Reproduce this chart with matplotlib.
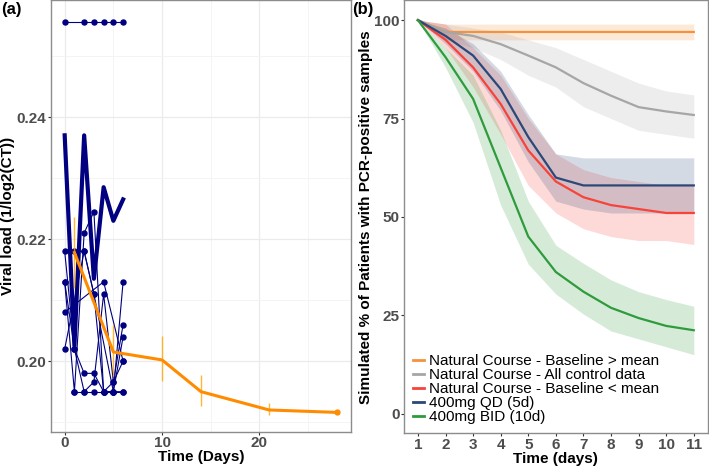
import numpy as np
import matplotlib.pyplot as plt
from matplotlib.ticker import MultipleLocator

plt.rcParams['font.family'] = ['Liberation Sans', 'DejaVu Sans']

# ---- panel (a): individual viral loads ----
thin_days = [
    [0, 2, 3, 4, 5, 6],
    [1, 2, 3, 4, 5, 6],
    [0, 1, 2, 3, 4, 5, 6],
    [0, 1, 2, 3, 4, 5, 6],
    [0, 4, 6],
    [1, 2, 3, 4, 5, 6],
    [0, 1, 2, 3, 4, 5, 6],
    [0, 2, 3, 5, 6],
]
thin_vals = [
    [0.2556, 0.2556, 0.2556, 0.2556, 0.2556, 0.2556],
    [0.195, 0.195, 0.195, 0.195, 0.195, 0.195],
    [0.218, 0.202, 0.198, 0.198, 0.195, 0.1966, 0.206],
    [0.213, 0.195, 0.221, 0.2245, 0.195, 0.195, 0.204],
    [0.208, 0.213, 0.200],
    [0.218, 0.218, 0.211, 0.195, 0.195, 0.213],
    [0.213, 0.202, 0.195, 0.1966, 0.211, 0.1966, 0.200],
    [0.202, 0.218, 0.211, 0.195, 0.195],
]
thick_days = [0, 1, 2, 3, 4, 5, 6]
thick_vals = [0.237, 0.2025, 0.237, 0.2135, 0.2285, 0.223, 0.2265]

mean_days = [1, 5, 10, 14, 21, 28]
mean_vals = [0.2178, 0.2015, 0.2002, 0.1950, 0.1920, 0.1916]
mean_lo = [0.2120, 0.1976, 0.1967, 0.1926, 0.1911, 0.1914]
mean_hi = [0.2236, 0.2060, 0.2042, 0.1978, 0.1931, 0.1918]

# ---- panel (b): simulated % PCR-positive ----
days_b = [1, 2, 3, 4, 5, 6, 7, 8, 9, 10, 11]
series = [
    ("Natural Course - Baseline > mean", "#F5923E",
     [100, 97, 97, 97, 97, 97, 97, 97, 97, 97, 97],
     [100, 95, 95, 95, 95, 95, 95, 95, 95, 95, 95],
     [100, 99, 99, 99, 99, 99, 99, 99, 99, 99, 99]),
    ("Natural Course - All control data", "#A6A6A6",
     [100, 97, 96, 93.9, 91, 88, 84, 80.8, 77.9, 76.8, 75.9],
     [100, 95, 93, 90, 86, 83, 78, 75, 72, 71, 70],
     [100, 99, 98, 97, 95, 93, 90, 87, 84, 82, 81]),
    ("Natural Course - Baseline < mean", "#F8433A",
     [100, 95, 88, 78.7, 66.9, 59, 55, 53, 52, 51, 51],
     [100, 93, 83, 71, 58, 51, 47, 45, 44, 44, 43],
     [100, 99, 93, 86, 75, 66, 62, 60, 59, 58, 58]),
    ("400mg QD (5d)", "#2B4878",
     [100, 96, 91, 82.5, 70.3, 60, 58, 58, 58, 58, 58],
     [100, 94, 87, 77, 64, 54, 52, 51, 51, 51, 51],
     [100, 98, 94, 87, 76, 66, 65, 65, 65, 65, 65]),
    ("400mg BID (10d)", "#2E9B3C",
     [100, 90.6, 80, 62.5, 45, 36, 31, 26.9, 24.3, 22.3, 21.2],
     [100, 88, 74, 53, 38, 30.4, 25.3, 21, 19, 17, 15],
     [100, 93, 86, 72, 54, 42.8, 38.2, 34, 31, 29, 27.3]),
]

fig = plt.figure(figsize=(7.09, 4.69), dpi=100)
ax1 = fig.add_axes([0.072, 0.079, 0.423, 0.92])
ax2 = fig.add_axes([0.570, 0.076, 0.428, 0.923])

TICK_COLOR = "#4D4D4D"

def style_axes(ax):
    ax.set_facecolor("white")
    ax.grid(True, which="major", color="#EBEBEB", linewidth=0.9, zorder=0)
    ax.grid(True, which="minor", color="#F3F3F3", linewidth=0.6, zorder=0)
    ax.set_axisbelow(True)
    for s in ax.spines.values():
        s.set_color("#8C8C8C")
        s.set_linewidth(1.0)
    ax.tick_params(which="major", length=2.2, color="#333333", width=0.8,
                   labelsize=11, labelcolor=TICK_COLOR, pad=1)
    ax.tick_params(which="minor", length=0)
    for lab in ax.get_xticklabels() + ax.get_yticklabels():
        lab.set_fontweight("bold")

# panel (a)
for d, v in zip(thin_days, thin_vals):
    ax1.plot(d, v, color="navy", linewidth=0.8, marker="o", markersize=3.6, zorder=3)
ax1.plot(thick_days, thick_vals, color="navy", linewidth=3.0, zorder=3)
ax1.vlines(mean_days, mean_lo, mean_hi, color="#FFA500", linewidth=1.0, alpha=0.8, zorder=4)
ax1.plot(mean_days, mean_vals, color="#FF8C00", linewidth=2.2, zorder=5)
ax1.plot(mean_days[-1], mean_vals[-1], "o", color="#FF8C00", markersize=3.5, zorder=5)

ax1.set_xlim(-1.4, 29.4)
ax1.set_ylim(0.1884, 0.2591)
ax1.set_xticks([0, 10, 20])
ax1.set_yticks([0.20, 0.22, 0.24])
ax1.set_yticklabels(["0.20", "0.22", "0.24"])
ax1.xaxis.set_minor_locator(MultipleLocator(5))
ax1.yaxis.set_minor_locator(MultipleLocator(0.01))
style_axes(ax1)
ax1.set_xlabel("Time (Days)", fontsize=11, fontweight="bold", labelpad=0)
ax1.set_ylabel("Viral load (1/log2(CT))", fontsize=11, fontweight="bold", labelpad=1)

# panel (b)
for label, color, mid, lo, hi in series:
    ax2.fill_between(days_b, lo, hi, color=color, alpha=0.2, linewidth=0, zorder=2)
for label, color, mid, lo, hi in series:
    ax2.plot(days_b, mid, color=color, linewidth=1.6, label=label, zorder=3)

ax2.set_xlim(0.5, 11.5)
ax2.set_ylim(-5, 105)
ax2.set_xticks(days_b)
ax2.set_yticks([0, 25, 50, 75, 100])
style_axes(ax2)
ax2.grid(False, which="both")
ax2.set_xlabel("Time (days)", fontsize=11, fontweight="bold", labelpad=0)
ax2.set_ylabel("Simulated % of Patients with PCR-positive samples",
               fontsize=11, fontweight="bold", labelpad=1)
leg = ax2.legend(loc="lower left", bbox_to_anchor=(0.0, 0.0), frameon=False,
                 fontsize=11, handlelength=0.7, handletextpad=0.35,
                 labelspacing=0.0, borderpad=0.3, borderaxespad=0.3)
for line in leg.get_lines():
    line.set_linewidth(2.0)

fig.text(0.002, 0.995, "(a)", fontsize=12, fontweight="bold", va="top", ha="left")
fig.text(0.496, 0.995, "(b)", fontsize=12, fontweight="bold", va="top", ha="left")

fig.savefig("out.png", dpi=100)
